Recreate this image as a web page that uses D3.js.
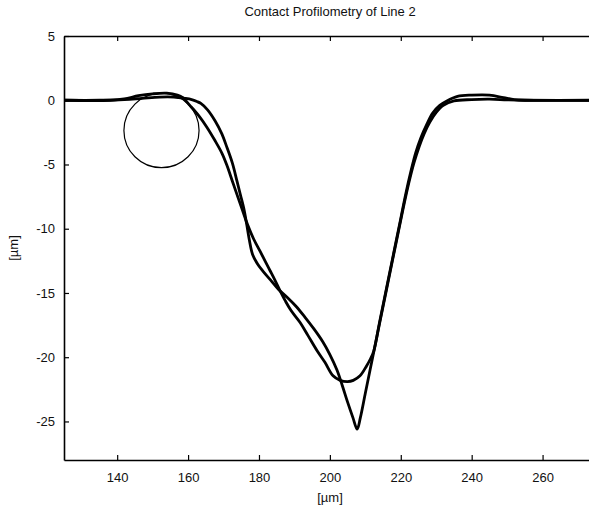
<!DOCTYPE html>
<html>
<head>
<meta charset="utf-8">
<script src="https://cdn.jsdelivr.net/npm/d3@7"></script>
<style>
  body { margin: 0; background: #fff; }
  svg text { font-family: "Liberation Sans", Arial, sans-serif; fill: #111; }
</style>
</head>
<body>
<div id="chart"></div>
<script>
// profile 1: the sharp V trace
var profileVX = [125, 135, 142, 147, 152, 156, 159, 161, 162.5, 163.6, 165.5, 167.6, 169.5, 171, 172.5, 173.8, 174.8, 175.7, 176.5, 177.3, 178.2, 179.6, 181.1, 183.3, 185.6, 188, 190.5, 193, 195.5, 198, 200, 202, 203.5, 205, 206.5, 207.7, 208.6, 210, 212, 214, 216, 218, 219.8, 221, 222.3, 223.7, 225.2, 226.6, 228.2, 230, 232, 235, 240, 245, 250, 255, 275];
var profileVY = [0, 0, 0.05, 0.15, 0.25, 0.25, 0.15, 0.05, -0.1, -0.25, -0.75, -1.6, -2.6, -3.7, -4.9, -6.3, -7.4, -8.4, -9.6, -10.9, -12.0, -12.75, -13.3, -14.0, -14.75, -15.35, -16.05, -16.9, -17.8, -18.8, -19.8, -21.0, -22.2, -23.5, -24.7, -25.6, -24.7, -22.8, -20.1, -17.4, -14.7, -12.0, -9.6, -8.0, -6.4, -4.9, -3.6, -2.6, -1.7, -0.95, -0.4, -0.05, 0.05, 0.08, 0.03, 0, 0];

// profile 2: the rounded U trace
var profileUX = [125, 138, 142, 146, 150, 154, 157, 158.5, 160.5, 163, 165.3, 167.5, 169.6, 171, 172.5, 174, 175.4, 176.8, 178.5, 180.3, 181.7, 183.1, 184.5, 185.9, 187.4, 189, 191.6, 193.8, 196.4, 198.6, 200.9, 202.9, 205, 206.6, 208.5, 210.3, 211.5, 212.4, 214, 216, 218, 220, 221.4, 222.8, 224.2, 225.7, 227.3, 229, 231, 233, 236, 240, 245, 249, 252, 255, 275];
var profileUY = [0, 0, 0.1, 0.35, 0.5, 0.55, 0.4, 0.2, -0.4, -1.2, -2.1, -3.1, -4.15, -5.1, -6.3, -7.5, -8.6, -9.7, -10.8, -11.75, -12.5, -13.25, -14.0, -14.8, -15.6, -16.35, -17.3, -18.3, -19.5, -20.4, -21.45, -21.8, -21.9, -21.8, -21.45, -20.7, -20.1, -19.5, -17.3, -14.6, -11.9, -9.2, -7.3, -5.6, -4.1, -2.9, -1.9, -1.0, -0.4, -0.05, 0.3, 0.4, 0.4, 0.2, 0.05, 0, 0];

// stylus tip outline (centre and radii in data units)
var stylusCenter = [152.5, -2.35];
var stylusRadius = [10.6, 2.9];

var xDomain = [125, 275];
var yDomain = [-28, 5];
var xTicks = [140, 160, 180, 200, 220, 240, 260];
var yTicks = [5, 0, -5, -10, -15, -20, -25];

var titleText = "Contact Profilometry of Line 2";
var xLabelText = "[\u00b5m]";
var yLabelText = "[\u00b5m]";

var svgWidth = 589;
var svgHeight = 511;
var margin = { top: 36, left: 64, bottom: 51 };

var svg = d3
  .select("#chart")
  .append("svg")
  .attr("width", svgWidth)
  .attr("height", svgHeight);

var xScale = d3
  .scaleLinear()
  .domain(xDomain)
  .range([margin.left, margin.left + (xDomain[1] - xDomain[0]) * 3.545]);

var yScale = d3
  .scaleLinear()
  .domain(yDomain)
  .range([svgHeight - margin.bottom, margin.top]);

var plotTop = yScale(yDomain[1]);
var plotBottom = yScale(yDomain[0]);
var plainNumber = (d) => String(d); // keep the short hyphen minus

// axes, MATLAB style with ticks pointing in
svg
  .append("g")
  .attr("class", "x-axis")
  .attr("transform", "translate(0," + plotBottom + ")")
  .call(d3.axisBottom(xScale).tickValues(xTicks).tickFormat(plainNumber).tickSizeInner(-5).tickSizeOuter(0).tickPadding(13));

svg
  .append("g")
  .attr("class", "x-axis-top")
  .attr("transform", "translate(0," + plotTop + ")")
  .call(d3.axisTop(xScale).tickValues(xTicks).tickSizeInner(-5).tickSizeOuter(0).tickFormat(""));

svg
  .append("g")
  .attr("class", "y-axis")
  .attr("transform", "translate(" + margin.left + ",0)")
  .call(d3.axisLeft(yScale).tickValues(yTicks).tickFormat(plainNumber).tickSizeInner(-5).tickSizeOuter(0).tickPadding(9));

svg.selectAll(".domain").attr("stroke", "#000").attr("stroke-width", 1.6);
svg.selectAll(".tick line").attr("stroke", "#000").attr("stroke-width", 1.2);
svg.selectAll(".tick text").style("font-size", "13px");

// stylus outline
svg
  .append("ellipse")
  .attr("cx", xScale(stylusCenter[0]))
  .attr("cy", yScale(stylusCenter[1]))
  .attr("rx", xScale(stylusCenter[0] + stylusRadius[0]) - xScale(stylusCenter[0]))
  .attr("ry", yScale(stylusCenter[1] - stylusRadius[1]) - yScale(stylusCenter[1]))
  .attr("fill", "none")
  .attr("stroke", "#000")
  .attr("stroke-width", 1.2);

drawProfile(profileVX, profileVY, "profileV");
drawProfile(profileUX, profileUY, "profileU");

svg
  .append("text")
  .attr("x", 330)
  .attr("y", 16)
  .attr("text-anchor", "middle")
  .style("font-size", "13px")
  .text(titleText);

svg
  .append("text")
  .attr("x", 330)
  .attr("y", 502)
  .attr("text-anchor", "middle")
  .style("font-size", "13px")
  .text(xLabelText);

svg
  .append("text")
  .attr("transform", "translate(18," + 248 + ") rotate(-90)")
  .attr("text-anchor", "middle")
  .style("font-size", "13px")
  .text(yLabelText);

function drawProfile(xs, ys, elementID) {
  var points = xs.map(function (x, i) {
    return [x, ys[i]];
  });
  return svg
    .append("path")
    .datum(points)
    .attr(
      "d",
      d3
        .line()
        .curve(d3.curveCatmullRom)
        .x((d) => xScale(d[0]))
        .y((d) => yScale(d[1])),
    )
    .attr("fill", "none")
    .attr("stroke", "#000")
    .attr("stroke-width", 2.8)
    .attr("stroke-linejoin", "round")
    .attr("id", elementID);
}
</script>
</body>
</html>
